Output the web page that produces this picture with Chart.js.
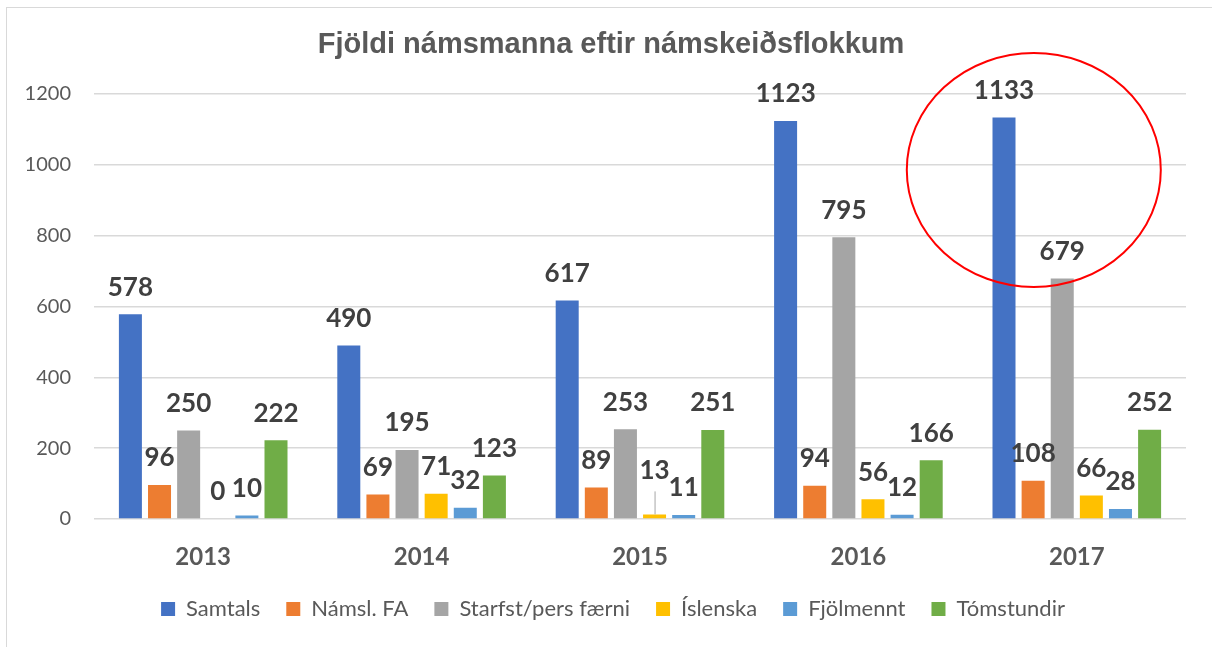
<!DOCTYPE html>
<html>
<head>
<meta charset="utf-8">
<script src="https://cdn.jsdelivr.net/npm/chart.js@4.4.0/dist/chart.umd.min.js"></script>
<style>
  html, body { margin: 0; padding: 0; background: #fff; }
  #wrap { position: relative; width: 1212px; height: 647px; }
  #frame { position: absolute; left: 6px; top: 7px; right: -2px; bottom: -2px;
           border-left: 1px solid #d9d9d9; border-top: 1px solid #d9d9d9; pointer-events: none; }
</style>
</head>
<body>
<div id="wrap">
  <canvas id="chart" width="1212" height="647"></canvas>
  <div id="frame"></div>
</div>
<script>
// Data
const years = ["2013", "2014", "2015", "2016", "2017"];
const samtals = [578, 490, 617, 1123, 1133];
const namslFA = [96, 69, 89, 94, 108];
const starfst = [250, 195, 253, 795, 679];
const islenska = [0, 71, 13, 56, 66];
const fjolmennt = [10, 32, 11, 12, 28];
const tomstundir = [222, 123, 251, 166, 252];
const yTicks = [0, 200, 400, 600, 800, 1000, 1200];

const colors = {
  blue: '#4472C4',
  orange: '#ED7D31',
  grey: '#A5A5A5',
  yellow: '#FFC000',
  lightBlue: '#5B9BD5',
  green: '#70AD47'
};

const calibri = "Lato, 'Open Sans', sans-serif";

// draws the bold value labels above each bar
const valueLabels = {
  id: 'valueLabels',
  afterDatasetsDraw(chart) {
    const ctx = chart.ctx;
    ctx.save();
    ctx.font = "bold 26px " + calibri;
    ctx.fillStyle = '#404040';
    ctx.textAlign = 'center';
    ctx.textBaseline = 'middle';
    chart.data.datasets.forEach((ds, i) => {
      chart.getDatasetMeta(i).data.forEach((bar, j) => {
        let y = bar.y - 27;
        // the 2015 Íslenska label was pushed up, with a leader line
        if (i === 3 && j === 2) {
          y -= 17;
          ctx.strokeStyle = '#a6a6a6';
          ctx.lineWidth = 1;
          ctx.beginPath();
          ctx.moveTo(bar.x + 0.5, y + 21);
          ctx.lineTo(bar.x + 0.5, bar.y);
          ctx.stroke();
        }
        ctx.fillText(String(ds.data[j]), bar.x, y);
      });
    });
    ctx.restore();
  }
};

// red ellipse drawn around 2017
const redCircle = {
  id: 'redCircle',
  afterDraw(chart) {
    const x = chart.scales.x.getPixelForValue(4) - 43;
    const y = chart.scales.y.getPixelForValue(985);
    const ctx = chart.ctx;
    ctx.save();
    ctx.strokeStyle = '#ff0000';
    ctx.lineWidth = 2;
    ctx.beginPath();
    ctx.ellipse(x, y, 127, 117, 0, 0, Math.PI * 2);
    ctx.stroke();
    ctx.restore();
  }
};

// title and legend sit centred a bit right of the canvas centre
const boxShift = {
  id: 'boxShift',
  afterLayout(chart) {
    chart.legend.left += 20;
    chart.legend.right += 20;
    chart.titleBlock.left += 18;
    chart.titleBlock.right += 18;
  }
};

const ctx = document.getElementById('chart').getContext('2d');
const chart = new Chart(ctx, {
  type: 'bar',
  data: {
    labels: years,
    datasets: [
      { label: 'Samtals', data: samtals, backgroundColor: colors.blue },
      { label: 'Námsl. FA', data: namslFA, backgroundColor: colors.orange },
      { label: 'Starfst/pers færni', data: starfst, backgroundColor: colors.grey },
      { label: 'Íslenska', data: islenska, backgroundColor: colors.yellow },
      { label: 'Fjölmennt', data: fjolmennt, backgroundColor: colors.lightBlue },
      { label: 'Tómstundir', data: tomstundir, backgroundColor: colors.green }
    ]
  },
  options: {
    responsive: false,
    animation: false,
    datasets: {
      bar: { categoryPercentage: 0.8, barPercentage: 0.79 }
    },
    layout: { padding: { left: 0, right: 26, top: 0, bottom: 17 } },
    plugins: {
      title: {
        display: true,
        text: 'Fjöldi námsmanna eftir námskeiðsflokkum',
        color: '#595959',
        font: { family: "'Liberation Sans', Arial, sans-serif", size: 29, weight: 'bold' },
        padding: { top: 28, bottom: 31 }
      },
      legend: {
        position: 'bottom',
        labels: {
          color: '#595959',
          font: { family: calibri, size: 22 },
          boxWidth: 14,
          boxHeight: 14,
          padding: 26
        }
      },
      tooltip: { enabled: false }
    },
    scales: {
      y: {
        min: 0,
        max: 1200,
        afterBuildTicks(scale) {
          scale.ticks = yTicks.map(v => ({ value: v }));
        },
        afterFit(scale) { scale.width = 94; },
        border: { display: false },
        grid: { color: '#d9d9d9', lineWidth: 1.5, drawTicks: false },
        ticks: {
          color: '#595959',
          padding: 23,
          font: { family: calibri, size: 20 },
          callback: v => String(v)
        }
      },
      x: {
        afterFit(scale) { scale.height = 53; },
        border: { display: false },
        grid: { display: false, drawTicks: false },
        ticks: {
          color: '#595959',
          padding: 24,
          font: { family: calibri, size: 24, weight: 'bold' }
        }
      }
    }
  },
  plugins: [valueLabels, redCircle, boxShift]
});
</script>
</body>
</html>
